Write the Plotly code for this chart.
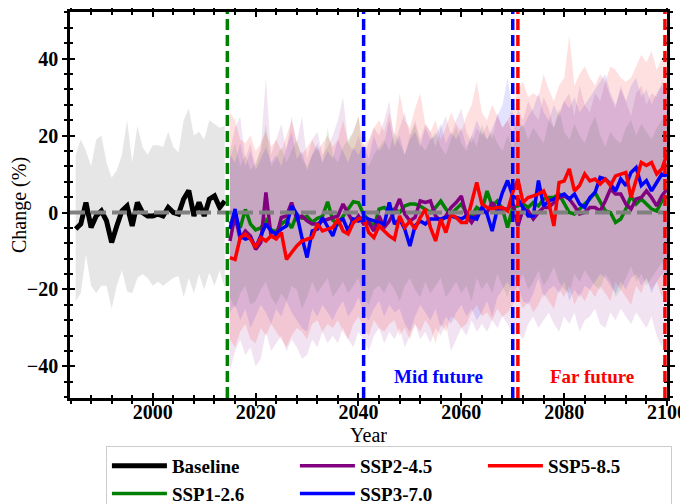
import plotly.graph_objects as go

# ---------------- data ----------------
base_years = list(range(1985, 2015))
base_mean = [-4.3, -3.0, 2.6, -3.9, -0.9, 0.4, -2.2, -7.8, -3.5, 0.4,
             1.7, -3.5, 2.6, 0.0, -0.9, -0.9, -0.4, -0.9, 1.3, 0.0,
             -0.4, 3.5, 5.7, -0.9, 2.6, -0.9, 3.5, 4.3, 1.3, 3.0]
base_upper = [15, 19, 16, 12, 19, 20, 13, 9, 11, 15,
              24, 13, 22.5, 17, 15, 17.5, 17.5, 17, 21, 17,
              15.6, 24, 27, 20, 21, 19, 24, 23, 22, 22.5]
base_lower = [-23, -21, -11, -19, -21, -19, -19, -25, -19, -15,
              -20.5, -21, -17, -16, -17, -19, -18, -19, -18, -17,
              -16.5, -22, -17, -21, -16, -20, -15.6, -19, -15, -19.5]

fut_years = list(range(2015, 2101))

ssp126_mean = [-3, -1, -4, 0.8, -3, -4.5, -4, -2, -4.5, -5,
               -3, -2, -4, -0.5, -1.5, -1, -2.5, -1.5, -1, 2.8,
               -2, -3, -1, 1, 2.8, 2.5, -0.5, -2, -3.9, 0.9,
               1.3, 0.4, 0.9, 0, 1.7, 2.2, 2.2, 1.7, 0.9, 0,
               1.3, 3, 0.9, -0.4, 0.9, 2.2, 0, -0.9, 1.3, 0.4,
               5.6, 1.7, 3, 0.9, -3.9, 1.3, 1.7, 2.2, 1.3, 2.6,
               1.7, 3.5, 3.9, 3.9, 4.8, 2.6, 0, -0.4, 0.9, 2.2,
               3.5, 5.2, 2.6, 0.4, 0, -2.6, -1.7, 0.9, 4.3, 2.2,
               3.5, 2.2, 0.9, 0.4, 3, 4.3]
ssp245_mean = [-7.4, -0.9, -6.9, -4.8, -6.1, -9.6, -7.8, 5.2, -6.1, -6.5,
               -1.3, -0.9, 2.6, -1.7, -0.9, -2.2, -3, -3, -2.2, -1.7,
               -1.3, -0.9, 2.2, 0, -2.6, -0.9, -3, -2.6, -4.8, -0.9,
               -3.9, -2.2, 0.4, 3.5, -0.4, -2.2, -1.3, 3, 2.6, 3,
               -0.9, -2.2, -0.9, 1.3, 2.6, 4.3, -0.9, -2.6, -0.4, 0.4,
               0, 2.6, 0.4, 0.9, 0.9, 2.6, -3.5, 0.9, 0.4, -1.7,
               0, 1.3, 1.3, 2.6, 3.9, 4.3, 3.5, 1.7, -0.4, 0,
               1.3, 1.3, 0.4, 3, 6.1, 4.8, 4.8, 2.2, 0.9, 3.5,
               3.9, 5.6, 3.9, 1.7, 4.3, 6.1]
ssp370_mean = [-4.3, 0.9, -6.1, -6.9, -6.5, -9.1, -6.1, -3, -4.8, -5.6,
               -4.3, -3.5, 1.7, -0.4, -6.5, -11.7, -4.8, -4.3, -1.3, -3.9,
               -6.1, -2.2, -1.7, -4.8, -1.7, -2.2, -1.3, -1.7, -2.2, -2.6,
               -3, 2.6, -3, -1.7, -4.3, -8.7, -3.5, -2.2, -3, -1.7,
               -1.7, -1.7, -1.3, -0.9, -1.3, -1.7, -0.9, -1.3, -1.7, 1.3,
               -0.4, -4.8, 0.9, 5.2, 8.3, 4.3, 3.5, 1.3, -0.9, -0.9,
               8.3, 1.7, 3, 3.5, 4.3, 4.8, 3.5, 4.8, 2.2, 1.3,
               3.9, 5.2, 9.1, 8.7, 7.4, 5.6, 8.7, 7, 10.4, 11.7,
               7, 8.3, 5.6, 7.8, 10, 9.6]
ssp585_mean = [-11.7, -12.2, -6.5, -5.6, -6.9, -9.1, -6.5, -7.4, -6.1, -6.9,
               -5.2, -12.2, -10.4, -8.7, -7.4, -6.9, -6.5, -3, -4.8, -4.3,
               -3.9, -1.7, -4.8, -5.6, -2.6, -1.7, -1.3, -5.2, -6.5, -3.5,
               -4.8, -6.1, -7, -0.9, -3.9, -2.2, -4.3, -1.3, 0.9, -3.9,
               -7.4, -1.7, -5.2, -0.4, -1.3, -2.6, -2.6, 2.2, 7.8, 2.2,
               1.3, 0.9, 1.3, 1.3, 0.4, 5.2, 8.7, 2.6, 3.9, 4.3,
               4.8, 5.6, 2.6, -3.5, 7.8, 8.2, 11.3, 5.6, 7, 10,
               8.2, 8.7, 7.4, 8.7, 7, 9.5, 10, 10.4, 3.9, 8.2,
               13, 12.2, 13, 10, 11.3, 15.2]

ssp126_upper = [14, 18, 12, 15, 11, 13, 16, 23, 12, 14,
                17, 13, 16, 19, 14, 12, 15, 17, 13, 22,
                15, 13, 17, 19, 21, 25, 14, 12, 15, 17,
                19, 16, 21, 18, 15, 20, 23, 18, 16, 19,
                21, 17, 15, 19, 22, 18, 16, 20, 17, 23,
                19, 21, 18, 16, 20, 17, 21, 23, 19, 22,
                20, 18, 24, 22, 27, 21, 19, 23, 20, 18,
                22, 25, 20, 17, 21, 19, 18, 22, 24, 20,
                23, 21, 19, 22, 24, 26]
ssp126_lower = [-22, -25, -21, -19, -24, -23, -20, -18, -22, -24,
                -21, -23, -19, -20, -25, -22, -18, -21, -19, -17,
                -22, -20, -18, -21, -19, -17, -22, -24, -20, -19,
                -21, -18, -20, -23, -19, -17, -20, -22, -18, -21,
                -19, -17, -22, -20, -18, -21, -19, -23, -17, -20,
                -18, -21, -16, -19, -22, -17, -19, -16, -20, -18,
                -15, -19, -17, -14, -18, -20, -21, -16, -18, -15,
                -17, -19, -20, -16, -18, -22, -20, -17, -14, -18,
                -16, -19, -17, -15, -13, -16]
ssp245_upper = [16, 22, 25, 14, 18, 12, 17, 35, 15, 19,
                23, 16, 25, 18, 25, 14, 19, 21, 15, 17,
                20, 24, 30, 18, 16, 20, 15, 18, 22, 20,
                24, 29, 18, 22, 26, 20, 24, 19, 23, 21,
                17, 22, 25, 20, 24, 27, 21, 18, 22, 20,
                23, 19, 26, 22, 24, 20, 27, 24, 29, 26,
                24, 30, 27, 22, 26, 29, 31, 25, 33, 28,
                26, 31, 29, 34, 30, 27, 33, 29, 25, 31,
                33, 28, 31, 30, 34, 33]
ssp245_lower = [-41, -36, -33, -37, -35, -40, -38, -31, -36, -34,
                -32, -36, -33, -35, -38, -37, -33, -35, -31, -34,
                -32, -34, -30, -33, -35, -31, -33, -36, -32, -30,
                -34, -31, -33, -30, -35, -32, -29, -33, -31, -34,
                -30, -32, -29, -36, -33, -30, -32, -28, -31, -29,
                -31, -28, -30, -27, -29, -32, -31, -33, -29, -27,
                -30, -28, -26, -29, -31, -27, -29, -26, -31, -28,
                -27, -25, -29, -30, -26, -28, -25, -27, -29, -26,
                -28, -30, -27, -32, -35, -29]
ssp370_upper = [15, 13, 18, 12, 16, 11, 14, 17, 13, 15,
                12, 17, 21, 14, 16, 11, 15, 18, 13, 16,
                14, 19, 16, 13, 17, 15, 18, 14, 20, 16,
                18, 24, 17, 20, 15, 19, 21, 17, 22, 19,
                20, 23, 18, 21, 19, 22, 17, 20, 24, 21,
                19, 22, 25, 28, 35, 26, 24, 22, 25, 27,
                31, 26, 24, 28, 25, 29, 27, 30, 26, 28,
                30, 32, 34, 36, 31, 28, 32, 29, 33, 35,
                30, 32, 28, 31, 33, 30]
ssp370_lower = [-26, -24, -28, -25, -30, -27, -24, -26, -29, -25,
                -27, -23, -26, -28, -30, -31, -25, -27, -24, -26,
                -28, -25, -23, -27, -25, -22, -26, -28, -25, -23,
                -27, -24, -26, -25, -29, -31, -27, -24, -26, -28,
                -25, -30, -27, -29, -26, -24, -27, -25, -28, -26,
                -23, -27, -22, -20, -18, -21, -19, -23, -24, -21,
                -17, -22, -20, -19, -21, -18, -23, -20, -22, -19,
                -20, -18, -16, -17, -19, -21, -18, -20, -17, -16,
                -19, -17, -21, -18, -16, -18]
ssp585_upper = [26, 24, 19, 18, 20, 16, 18, 21, 17, 19,
                16, 20, 24, 18, 15, 17, 19, 16, 18, 20,
                17, 19, 24, 18, 21, 25, 17, 19, 22, 24,
                21, 26, 20, 31, 24, 22, 27, 31, 23, 21,
                24, 19, 22, 26, 23, 21, 25, 28, 34, 26,
                24, 28, 25, 22, 24, 27, 32, 34, 30, 31,
                30, 36, 32, 29, 33, 35, 46, 33, 36, 38,
                35, 33, 36, 34, 38, 37, 35, 34, 35, 38,
                41, 39, 42, 37, 40, 43]
ssp585_lower = [-33, -35, -31, -29, -33, -34, -30, -32, -29, -31,
                -33, -35, -32, -30, -31, -33, -29, -28, -31, -29,
                -30, -28, -31, -33, -29, -27, -30, -32, -28, -30,
                -31, -29, -28, -32, -30, -33, -29, -31, -28, -30,
                -34, -29, -31, -27, -28, -30, -29, -26, -24, -27,
                -26, -28, -25, -27, -26, -24, -22, -25, -23, -26,
                -24, -21, -23, -25, -20, -22, -19, -24, -21, -23,
                -20, -22, -19, -21, -23, -18, -20, -22, -24, -19,
                -21, -17, -20, -18, -22, -19]

scenario_names = ["SSP1-2.6", "SSP2-4.5", "SSP3-7.0", "SSP5-8.5"]
scenario_means = [ssp126_mean, ssp245_mean, ssp370_mean, ssp585_mean]
scenario_uppers = [ssp126_upper, ssp245_upper, ssp370_upper, ssp585_upper]
scenario_lowers = [ssp126_lower, ssp245_lower, ssp370_lower, ssp585_lower]

period_lines = [2014.5, 2041, 2070, 2071, 2099.6]
period_labels = ["Mid future", "Far future"]
period_label_x = [2055.5, 2085.5]
period_label_y = -42.5

# ---------------- styles ----------------
line_colors = {"SSP1-2.6": "green", "SSP2-4.5": "purple", "SSP3-7.0": "blue", "SSP5-8.5": "red"}
fill_colors = {"SSP1-2.6": "rgba(0,128,0,0.11)", "SSP2-4.5": "rgba(128,0,128,0.11)",
               "SSP3-7.0": "rgba(0,0,255,0.11)", "SSP5-8.5": "rgba(255,0,0,0.12)"}
legend_rank = {"Baseline": 1, "SSP2-4.5": 2, "SSP5-8.5": 3, "SSP1-2.6": 4, "SSP3-7.0": 5}
period_colors = ["green", "blue", "blue", "red", "red"]
label_colors = ["blue", "red"]
SERIF = "Liberation Serif"

fig = go.Figure()

# baseline band
fig.add_trace(go.Scatter(x=base_years, y=base_lower, mode="lines", line=dict(width=0),
                         showlegend=False, hoverinfo="skip"))
fig.add_trace(go.Scatter(x=base_years, y=base_upper, mode="lines", line=dict(width=0),
                         fill="tonexty", fillcolor="rgba(128,128,128,0.2)",
                         showlegend=False, hoverinfo="skip"))
# scenario bands
for name, lo, hi in zip(scenario_names, scenario_lowers, scenario_uppers):
    fig.add_trace(go.Scatter(x=fut_years, y=lo, mode="lines", line=dict(width=0),
                             showlegend=False, hoverinfo="skip"))
    fig.add_trace(go.Scatter(x=fut_years, y=hi, mode="lines", line=dict(width=0),
                             fill="tonexty", fillcolor=fill_colors[name],
                             showlegend=False, hoverinfo="skip"))

# lines
fig.add_trace(go.Scatter(x=base_years, y=base_mean, mode="lines", name="Baseline",
                         line=dict(color="black", width=5), legendrank=legend_rank["Baseline"]))
for name, m in zip(scenario_names, scenario_means):
    fig.add_trace(go.Scatter(x=fut_years, y=m, mode="lines", name=name,
                             line=dict(color=line_colors[name], width=3.5),
                             legendrank=legend_rank[name]))

# empty trace so the inward-tick overlay axes are drawn
fig.add_trace(go.Scatter(x=[], y=[], xaxis="x2", yaxis="y2", showlegend=False, hoverinfo="skip"))

shapes = [dict(type="line", xref="paper", x0=0, x1=1, yref="y", y0=0, y1=0,
               line=dict(color="gray", width=4, dash="15px,6px"), layer="above")]
for xv, c in zip(period_lines, period_colors):
    shapes.append(dict(type="line", xref="x", x0=xv, x1=xv, yref="paper", y0=0, y1=1,
                       line=dict(color=c, width=3.5, dash="11px,5px"), layer="above"))

annotations = []
for txt, xv, c in zip(period_labels, period_label_x, label_colors):
    annotations.append(dict(x=xv, y=period_label_y, xref="x", yref="y", text=txt,
                            showarrow=False,
                            font=dict(family=SERIF, size=19, color=c, weight="bold")))

xr = [1983.9, 2100]
yr = [-48.2, 52.1]
tickfont = dict(family=SERIF, size=20, color="black", weight="bold")
titlefont = dict(family=SERIF, size=20, color="black")

# the page body adds an 8px offset; figure is sized so the plot lands where the reference has it
fig.update_layout(
    width=680, height=496,
    margin=dict(l=62, r=21, t=4, b=106, autoexpand=False),
    paper_bgcolor="white", plot_bgcolor="white",
    shapes=shapes, annotations=annotations,
    xaxis=dict(range=xr, tick0=2000, dtick=20, ticks="outside", ticklen=5, tickwidth=2,
               tickcolor="black", showline=True, linewidth=2.5, linecolor="black",
               mirror="allticks", showgrid=False, zeroline=False, showticklabels=False,
               minor=dict(tick0=2000, dtick=4, ticks="outside", ticklen=3, tickwidth=1.5,
                          tickcolor="black", showgrid=False)),
    yaxis=dict(range=yr, tick0=0, dtick=20, ticks="outside", ticklen=5, tickwidth=2,
               tickcolor="black", showline=True, linewidth=2.5, linecolor="black",
               mirror="allticks", showgrid=False, zeroline=False, tickfont=tickfont,
               minor=dict(tick0=0, dtick=4, ticks="outside", ticklen=3, tickwidth=1.5,
                          tickcolor="black", showgrid=False),
               title=dict(text="Change (%)", font=titlefont, standoff=0)),
    xaxis2=dict(range=xr, overlaying="x", anchor="y2", tick0=2000, dtick=20, ticks="inside",
                ticklen=5, tickwidth=2, tickcolor="black", showline=False, mirror="allticks",
                showticklabels=True, tickfont=tickfont, showgrid=False, zeroline=False,
                minor=dict(tick0=2000, dtick=4, ticks="inside", ticklen=3, tickwidth=1.5,
                           tickcolor="black", showgrid=False),
                title=dict(text="Year", font=titlefont, standoff=8)),
    yaxis2=dict(range=yr, overlaying="y", anchor="x2", tick0=0, dtick=20, ticks="inside",
                ticklen=5, tickwidth=2, tickcolor="black", showline=False, mirror="allticks",
                showticklabels=False, showgrid=False, zeroline=False,
                minor=dict(tick0=0, dtick=4, ticks="inside", ticklen=3, tickwidth=1.5,
                           tickcolor="black", showgrid=False)),
    legend=dict(orientation="h", xref="container", yref="container",
                x=0.144, xanchor="left", y=0.117, yanchor="top",
                entrywidth=118, entrywidthmode="pixels", bordercolor="#cccccc", borderwidth=1,
                bgcolor="white", font=dict(family=SERIF, size=19, color="black", weight="bold"),
                traceorder="normal", itemwidth=55),
    showlegend=True,
)

fig.write_html("out.html")
